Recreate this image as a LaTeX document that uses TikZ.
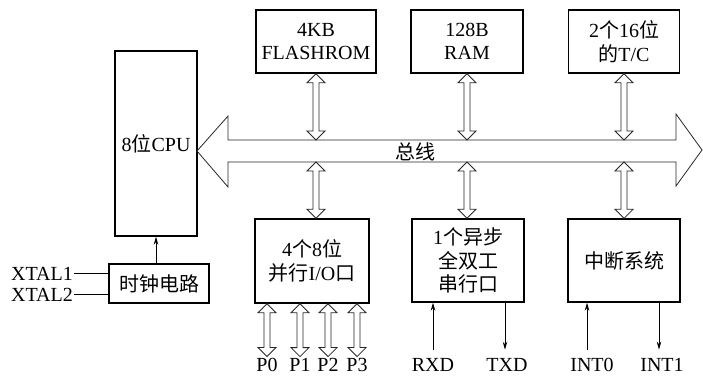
\documentclass[tikz,border=0pt]{standalone}
\usepackage{fontspec}
\setmainfont{Liberation Serif}
\newfontfamily\cjk{Noto Sans CJK SC}
\usetikzlibrary{arrows.meta,calc}
\newcommand\fs{\fontsize{20}{23.5}\selectfont}
\newcommand\dblar[2]{%
  \draw[dblstyle] let \p1=#1, \p2=#2 in
    (\x1,\y1) -- (\x1+9pt,\y1-9pt) -- (\x1+3pt,\y1-9pt) -- (\x1+3pt,\y2+9pt)
    -- (\x1+9pt,\y2+9pt) -- (\x1,\y2) -- (\x1-9pt,\y2+9pt) -- (\x1-3pt,\y2+9pt)
    -- (\x1-3pt,\y1-9pt) -- (\x1-9pt,\y1-9pt) -- cycle;}
\begin{document}
\begin{tikzpicture}[x=1pt,y=-1pt,
  blk/.style={draw,line width=1.4pt,inner sep=0pt,align=center,font=\fs},
  lbl/.style={inner sep=1pt,font=\fs},
  dblstyle/.style={draw=black!85,line width=0.8pt,fill=white,line join=miter},
  sig/.style={line width=0.8pt,-{Stealth[length=8pt,width=4.5pt]}},
  wire/.style={line width=0.8pt}]
\useasboundingbox (0,0) rectangle (703,375);
% boxes
\node[blk,minimum width=82pt,minimum height=185pt] (cpu) at (156,143.5) {8{\cjk 位}CPU};
\node[blk,minimum width=100pt,minimum height=39pt] (clock) at (159,283.5) {{\cjk 时钟电路}};
\node[blk,minimum width=120pt,minimum height=63pt] (flash) at (316,41.5) {4KB\\FLASHROM};
\node[blk,minimum width=112pt,minimum height=63pt] (ram) at (467,41.5) {128B\\RAM};
\node[blk,minimum width=111pt,minimum height=63pt] (tc) at (624,41.5) {2{\cjk 个}16{\cjk 位}\\{\cjk 的}T/C};
\node[blk,minimum width=114pt,minimum height=84pt] (io) at (312,261) {4{\cjk 个}8{\cjk 位}\\{\cjk 并行}I/O{\cjk 口}};
\node[blk,minimum width=112pt,minimum height=83pt] (ser) at (468,260.5) {1{\cjk 个异步}\\{\cjk 全双工}\\{\cjk 串行口}};
\node[blk,minimum width=112pt,minimum height=83pt] (intr) at (624,260.5) {{\cjk 中断系统}};
% bus
\coordinate (busL) at (197,151);
\coordinate (busR) at (702,150);
\coordinate (busT) at (0,140);
\coordinate (busB) at (0,162);
\draw[dblstyle] (busL) -- (228,116) -- (228,140) -- (676,140) -- (676,114) -- (busR)
  -- (676,186) -- (676,162) -- (228,162) -- (228,187) -- cycle;
\node[lbl] (buslbl) at (415,152) {{\cjk 总线}};
% bus connections
\dblar{(flash.south)}{(flash.south |- busT)}
\dblar{(ram.south)}{(ram.south |- busT)}
\dblar{(tc.south)}{(tc.south |- busT)}
\dblar{(flash.south |- busB)}{(flash.south |- io.north)}
\dblar{(ram.south |- busB)}{(ram.south |- ser.north)}
\dblar{(tc.south |- busB)}{(tc.south |- intr.north)}
% clock
\node[lbl,anchor=east] (x1) at (74,273.5) {XTAL1};
\node[lbl,anchor=east] (x2) at (74,294.5) {XTAL2};
\draw[wire] (x1.east) -- (x1.east -| clock.west);
\draw[wire] (x2.east) -- (x2.east -| clock.west);
\draw[sig] (clock.north -| cpu.south) -- (cpu.south);
% ports
\node[lbl,anchor=base] (p0) at (267,371) {P0};
\node[lbl,anchor=base] (p1) at (300,371) {P1};
\node[lbl,anchor=base] (p2) at (328,371) {P2};
\node[lbl,anchor=base] (p3) at (357,371) {P3};
\dblar{(io.south -| p0.north)}{(p0.north)}
\dblar{(io.south -| p1.north)}{(p1.north)}
\dblar{(io.south -| p2.north)}{(p2.north)}
\dblar{(io.south -| p3.north)}{(p3.north)}
% serial / interrupt signals
\node[lbl,anchor=base] (rxd) at (433,371) {RXD};
\node[lbl,anchor=base] (txd) at (507,371) {TXD};
\node[lbl,anchor=base] (int0) at (592,371) {INT0};
\node[lbl,anchor=base] (int1) at (662,371) {INT1};
\coordinate (r0) at ([yshift=7pt]rxd.north);
\coordinate (t0) at ([xshift=-2pt,yshift=7pt]txd.north);
\coordinate (i0) at ([xshift=-5pt,yshift=7pt]int0.north);
\coordinate (i1) at ([xshift=-3pt,yshift=7pt]int1.north);
\draw[sig] (r0) -- (r0 |- ser.south);
\draw[sig] (t0 |- ser.south) -- (t0);
\draw[sig] (i0) -- (i0 |- intr.south);
\draw[sig] (i1 |- intr.south) -- (i1);
\end{tikzpicture}
\end{document}
